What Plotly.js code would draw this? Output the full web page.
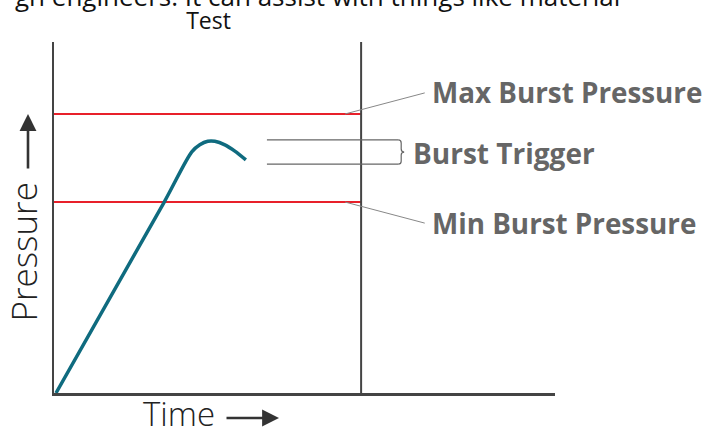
<!DOCTYPE html>
<html>
<head>
<meta charset="utf-8">
<script src="https://cdn.plot.ly/plotly-3.0.1.min.js"></script>
<style>html,body{margin:0;padding:0;background:#fff;}#chart{width:717px;height:430px;}</style>
</head>
<body>
<div id="chart"></div>
<script>
// Pressure curve (time %, pressure %)
const curveTime = [0.4, 22.0, 27.5, 29.1, 30.7, 32.1, 34.1, 36.1, 38.3];
const curvePressure = [0, 54.4, 68.7, 70.7, 71.7, 71.7, 70.7, 68.9, 66.4];

// Reference levels
const maxBurstPressure = 79.5;
const minBurstPressure = 54.4;
const testEndTime = 61.3;
const triggerHigh = 72.1;
const triggerLow = 65.2;
const triggerStart = 42.5;
const triggerEnd = 68.7;

// Text labels
const chartTitle = 'Test';
const topCaption = 'gn engineers. It can assist with things like material';
const xLabel = 'Time';
const yLabel = 'Pressure';
const maxLabel = 'Max Burst Pressure';
const triggerLabel = 'Burst Trigger';
const minLabel = 'Min Burst Pressure';

const FONT = '"Open Sans", "Noto Sans", sans-serif';
const LABEL_GREY = '#666666';

const traces = [
  {x: [0, testEndTime], y: [maxBurstPressure, maxBurstPressure], mode: 'lines',
   line: {color: '#e8202a', width: 2}, hoverinfo: 'skip'},
  {x: [0, testEndTime], y: [minBurstPressure, minBurstPressure], mode: 'lines',
   line: {color: '#e8202a', width: 2}, hoverinfo: 'skip'},
  {x: [testEndTime, testEndTime], y: [0, 100], mode: 'lines',
   line: {color: '#444444', width: 2}, hoverinfo: 'skip'},
  {x: [triggerStart, triggerEnd], y: [triggerHigh, triggerHigh], mode: 'lines',
   line: {color: '#666666', width: 1.2}, hoverinfo: 'skip'},
  {x: [triggerStart, triggerEnd], y: [triggerLow, triggerLow], mode: 'lines',
   line: {color: '#666666', width: 1.2}, hoverinfo: 'skip'},
  {x: curveTime, y: curvePressure, mode: 'lines',
   line: {color: '#0f6b7f', width: 3.5, shape: 'spline', smoothing: 0.8}}
];

// brace path built from the trigger levels
const bx0 = triggerEnd, bx1 = triggerEnd + 0.6, bx2 = triggerEnd + 1.2;
const bMid = (triggerHigh + triggerLow) / 2;
const bq = 0.85;
const bracePath = `M ${bx0},${triggerHigh} Q ${bx1},${triggerHigh} ${bx1},${triggerHigh - bq}` +
  ` L ${bx1},${bMid + bq} Q ${bx1},${bMid} ${bx2},${bMid} Q ${bx1},${bMid} ${bx1},${bMid - bq}` +
  ` L ${bx1},${triggerLow + bq} Q ${bx1},${triggerLow} ${bx0},${triggerLow}`;

const axisArrow = {showarrow: true, text: '', arrowhead: 2, arrowsize: 1.3, arrowwidth: 2.6,
                   arrowcolor: '#333333', standoff: 0, xref: 'paper', yref: 'paper'};

const layout = {
  width: 717, height: 430,
  margin: {l: 54, r: 162, t: 42, b: 37},
  paper_bgcolor: '#ffffff', plot_bgcolor: '#ffffff',
  showlegend: false,
  font: {family: FONT, color: '#222'},
  title: {text: chartTitle, x: 208.5 / 717, xref: 'container', xanchor: 'center',
          y: 1 - 21 / 430, yref: 'container', yanchor: 'middle',
          font: {family: FONT, size: 23, color: '#111'}},
  xaxis: {range: [0, 100], showgrid: false, zeroline: false, showticklabels: false, ticks: '',
          showline: true, linecolor: '#444444', linewidth: 2.5, fixedrange: true},
  yaxis: {range: [0, 100], showgrid: false, zeroline: false, showticklabels: false, ticks: '',
          showline: true, linecolor: '#444444', linewidth: 2.5, fixedrange: true},
  shapes: [
    {type: 'path', path: bracePath, xref: 'x', yref: 'y', line: {color: '#666666', width: 1.2}},
    {type: 'line', xref: 'x', yref: 'y', x0: 58.1, y0: maxBurstPressure, x1: 74.0, y1: 85.5,
     line: {color: '#888888', width: 1}},
    {type: 'line', xref: 'x', yref: 'y', x0: 58.1, y0: minBurstPressure, x1: 74.0, y1: 48.4,
     line: {color: '#888888', width: 1}}
  ],
  annotations: [
    {text: maxLabel, xref: 'x', yref: 'y', x: 75.1, y: 85.8, xanchor: 'left', yanchor: 'middle',
     showarrow: false, font: {family: FONT, size: 27.8, color: LABEL_GREY, weight: 'bold'}},
    {text: triggerLabel, xref: 'x', yref: 'y', x: 71.2, y: 68.4, xanchor: 'left', yanchor: 'middle',
     showarrow: false, font: {family: FONT, size: 28, color: LABEL_GREY, weight: 'bold'}},
    {text: minLabel, xref: 'x', yref: 'y', x: 75.1, y: 48.4, xanchor: 'left', yanchor: 'middle',
     showarrow: false, font: {family: FONT, size: 27.8, color: LABEL_GREY, weight: 'bold'}},
    {text: xLabel, xref: 'paper', yref: 'paper', x: 0.173, y: -0.058, xanchor: 'left', yanchor: 'middle',
     showarrow: false, font: {family: FONT, size: 33, color: '#222', weight: 300}},
    Object.assign({}, axisArrow, {x: (279 - 54) / 501, y: (393 - 418) / 351, ax: -54, ay: 0}),
    {text: yLabel, xref: 'paper', yref: 'paper', x: (23 - 54) / 501, y: (393 - 252.5) / 351, xanchor: 'center', yanchor: 'middle',
     textangle: -90, showarrow: false, font: {family: FONT, size: 35, color: '#222', weight: 300}},
    Object.assign({}, axisArrow, {x: (28 - 54) / 501, y: (393 - 114) / 351, ax: 0, ay: 56}),
    {text: topCaption, xref: 'paper', yref: 'paper', x: (622 - 54) / 501, y: 1.132, xanchor: 'right', yanchor: 'middle',
     showarrow: false, font: {family: FONT, size: 26, color: '#111'}}
  ]
};

Plotly.newPlot('chart', traces, layout, {displayModeBar: false, staticPlot: true});
</script>
</body>
</html>
